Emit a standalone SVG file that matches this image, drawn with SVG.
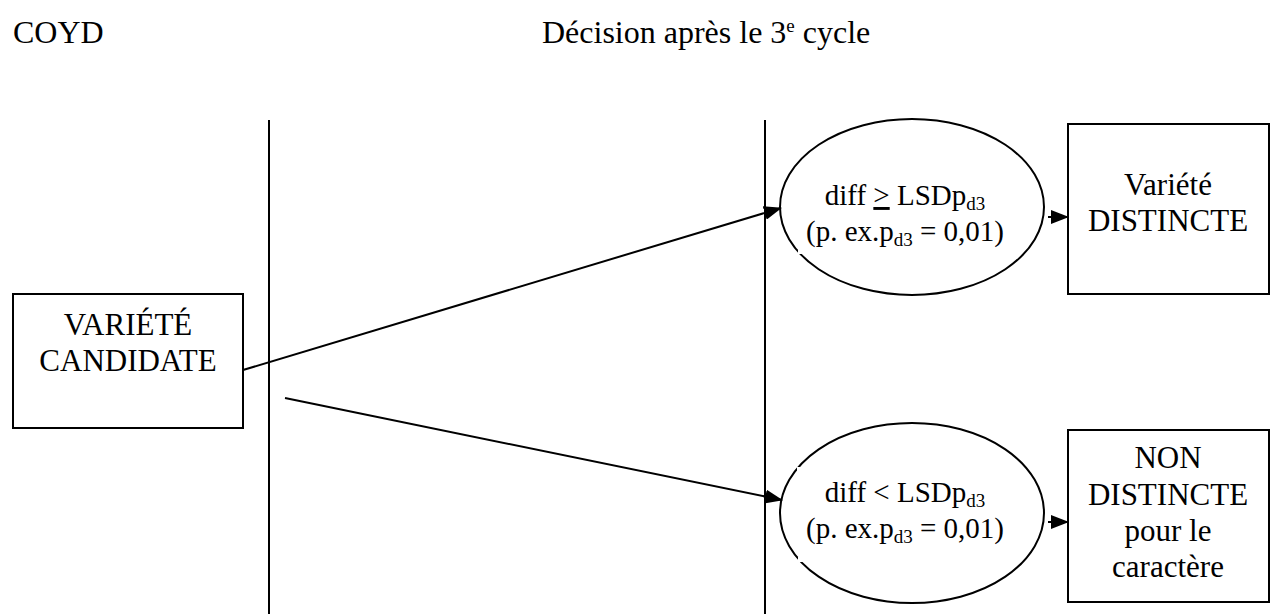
<svg xmlns="http://www.w3.org/2000/svg" width="1271" height="614" viewBox="0 0 1271 614">
<style>
text{font-family:"Liberation Serif","Times New Roman",serif;font-size:31px;fill:#000}
.t{font-size:32px}
.e{font-size:29px}
.c{text-anchor:middle}
.s{stroke:#000;stroke-width:2;fill:none}
.sub{font-size:19px}
.gap{fill:#fff;stroke:none}
</style>
<defs>
<marker id="ah" markerWidth="18" markerHeight="14" refX="17" refY="7" orient="auto" markerUnits="userSpaceOnUse" viewBox="0 0 18 14">
<path d="M0,0 L18,7 L0,14 z" fill="#000"/>
</marker>
</defs>
<rect width="1271" height="614" fill="#fff"/>
<g id="titles">
<text class="t" x="13" y="43">COYD</text>
<text class="t" x="542" y="43">Décision après le 3<tspan dy="-11" font-size="19">e</tspan><tspan dy="11"> cycle</tspan></text>
</g>
<g id="lanes">
<line class="s" x1="269" y1="120" x2="269" y2="614"/>
<line class="s" x1="765" y1="120" x2="765" y2="614"/>
</g>
<g id="candidate">
<rect class="s" x="13" y="294" width="230" height="134"/>
<text class="c" x="128" y="335">VARIÉTÉ</text>
<text class="c" x="128" y="371">CANDIDATE</text>
</g>
<g id="cond-ge">
<ellipse class="s" cx="912" cy="207" rx="132" ry="88"/>
<rect class="gap" x="798" y="249" width="6" height="5"/>
<text class="c e" x="905" y="205">diff <tspan text-decoration="underline">&gt;</tspan> LSDp<tspan class="sub" dy="5">d3</tspan></text>
<text class="c e" x="905" y="241">(p. ex.p<tspan class="sub" dy="5">d3</tspan><tspan dy="-5"> = 0,01)</tspan></text>
</g>
<g id="cond-lt">
<ellipse class="s" cx="912" cy="513" rx="132" ry="90"/>
<rect class="gap" x="797" y="467" width="6" height="5"/>
<rect class="gap" x="798" y="557" width="6" height="5"/>
<text class="c e" x="905" y="502">diff &lt; LSDp<tspan class="sub" dy="5">d3</tspan></text>
<text class="c e" x="905" y="538">(p. ex.p<tspan class="sub" dy="5">d3</tspan><tspan dy="-5"> = 0,01)</tspan></text>
</g>
<g id="distinct">
<rect class="s" x="1068" y="124" width="201" height="170"/>
<text class="c" x="1168" y="195">Variété</text>
<text class="c" x="1168" y="231">DISTINCTE</text>
</g>
<g id="nondistinct">
<rect class="s" x="1068" y="430" width="201" height="172"/>
<text class="c" x="1168" y="468">NON</text>
<text class="c" x="1168" y="505">DISTINCTE</text>
<text class="c" x="1168" y="541">pour le</text>
<text class="c" x="1168" y="577">caractère</text>
</g>
<g id="connectors">
<line class="s" x1="243" y1="370" x2="781" y2="208" marker-end="url(#ah)"/>
<line class="s" x1="285" y1="398" x2="782" y2="500" marker-end="url(#ah)"/>
<line class="s" x1="1048" y1="217" x2="1068" y2="217" marker-end="url(#ah)"/>
<line class="s" x1="1048" y1="522" x2="1068" y2="522" marker-end="url(#ah)"/>
</g>
</svg>
